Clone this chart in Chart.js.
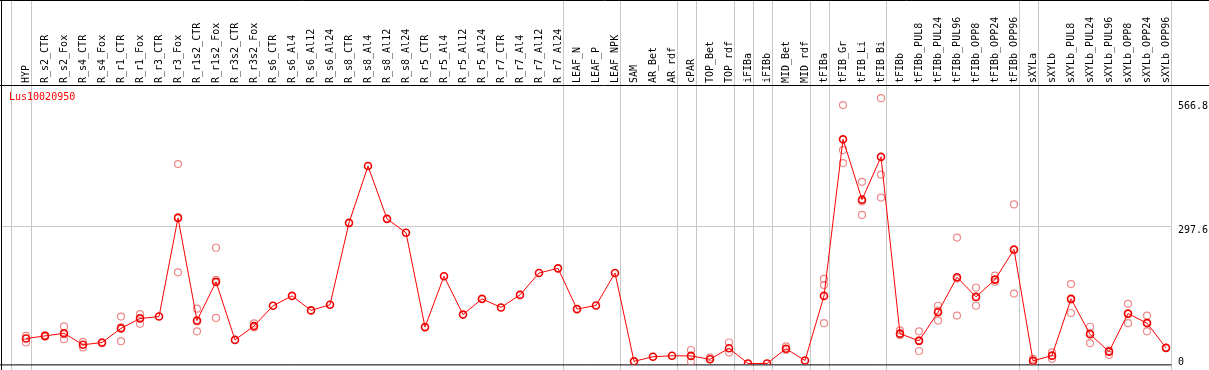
<!DOCTYPE html>
<html>
<head>
<meta charset="utf-8">
<script src="https://cdn.jsdelivr.net/npm/chart.js@4/dist/chart.umd.min.js"></script>
<style>
  body { margin: 0; background: #fff; }
  canvas { display: block; }
</style>
</head>
<body>
<canvas id="grafica" width="1209" height="370"></canvas>
<script>
// Datos
var geneName = 'Lus10020950';
var categories = ['HYP', 'R_s2_CTR', 'R_s2_Fox', 'R_s4_CTR', 'R_s4_Fox', 'R_r1_CTR', 'R_r1_Fox', 'R_r3_CTR', 'R_r3_Fox',
    'R_r1s2_CTR', 'R_r1s2_Fox', 'R_r3s2_CTR', 'R_r3s2_Fox', 'R_s6_CTR', 'R_s6_Al4', 'R_s6_Al12', 'R_s6_Al24',
    'R_s8_CTR', 'R_s8_Al4', 'R_s8_Al12', 'R_s8_Al24', 'R_r5_CTR', 'R_r5_Al4', 'R_r5_Al12', 'R_r5_Al24',
    'R_r7_CTR', 'R_r7_Al4', 'R_r7_Al12', 'R_r7_Al24', 'LEAF_N', 'LEAF_P', 'LEAF_NPK', 'SAM', 'AR_Bet', 'AR_rdf',
    'cPAR', 'TOP_Bet', 'TOP_rdf', 'iFIBa', 'iFIBb', 'MID_Bet', 'MID_rdf', 'tFIBa', 'tFIB_Gr', 'tFIB_Li', 'tFIB_Bi',
    'tFIBb', 'tFIBb_PUL8', 'tFIBb_PUL24', 'tFIBb_PUL96', 'tFIBb_OPP8', 'tFIBb_OPP24', 'tFIBb_OPP96',
    'sXYLa', 'sXYLb', 'sXYLb_PUL8', 'sXYLb_PUL24', 'sXYLb_PUL96', 'sXYLb_OPP8', 'sXYLb_OPP24', 'sXYLb_OPP96'];

// media
var meanValues = [54, 59.7, 65.4, 40.5, 45.4, 76, 97.4, 101.6, 315.3,
    93.1, 176.8, 51.1, 81, 125, 146.4, 115, 127.2,
    304.6, 427.6, 313.2, 283.3, 78.8, 189, 105.9, 140,
    121.4, 148.5, 196, 206, 117.8, 125.7, 196, 4.6, 14.6, 16.7,
    16.4, 9, 33, 0, 0, 32, 6.4, 146.4, 485.5, 354.8, 447.5,
    64.6, 49, 110.8, 186.8, 144.2, 181.7, 247,
    5.8, 17, 140, 63.3, 25.6, 108, 87.3, 33.8];

// replicas
var rep1 = [59.7, 58, 80.3, 46.9, 44, 101.6, 107, null, 431.8,
    118.7, 250.7, null, 86.7, null, null, null, null,
    null, null, null, null, null, null, null, null,
    null, null, null, null, null, null, null, null, null, null,
    29.2, 13.4, 45.4, null, null, 36.9, null, 183.2, 559.6, 393.5, 574.6,
    71.8, 69.7, 125, 272.7, 164, 190.3, 344.5,
    4.3, 24, 171.9, 79.5, 27.7, 129.3, 103.7, 34.1];
var rep2 = [45.4, 61, 52.6, 34.8, null, 48.3, 85.9, null, 197.5,
    69.7, 98.6, null, 78, null, null, null, null,
    null, null, null, null, null, null, null, null,
    null, null, null, null, null, null, null, null, null, null,
    4.3, null, 24, null, null, 29.2, null, 169.8, 462.3, 350.9, 409,
    61.1, 27, 93, 103.7, 125, 176.8, 151.3,
    10, 10, 109.3, 44.1, 18.5, 87.3, 69.7, null];
var rep3 = [null, null, 63, null, null, 78, 99, null, 316.6,
    91, 181, null, null, null, null, null, null,
    null, null, null, null, null, null, null, null,
    null, null, null, null, null, null, null, null, null, null,
    null, null, null, null, null, null, null, 87.3, 434, 321.7, 359.4,
    null, 50.3, 114.4, 184, 143.6, null, 245.5,
    null, null, 138.8, 66.3, null, 107.4, 88.5, null];

var groupEnds = ['HYP', 'R_r7_Al24', 'LEAF_NPK', 'AR_rdf', 'cPAR', 'TOP_rdf', 'iFIBa', 'iFIBb',
    'MID_rdf', 'tFIBa', 'tFIB_Bi', 'tFIBb_OPP96', 'sXYLa', 'sXYLb_OPP96'];
var yTicks = [0, 297.6, 566.8];

var fuente = 'DejaVu Sans Mono';
var colorRep = '#ee8a8a';

// lineas de grupo, marco, titulo y etiquetas del eje y
var marco = {
    id: 'marco',
    beforeDatasetsDraw: function (chart) {
        var ctx = chart.ctx;
        var x = chart.scales.x, y = chart.scales.y;
        var last = Math.round(x.getPixelForValue(categories.length - 1) + 4.5) + 0.5;
        ctx.save();
        ctx.strokeStyle = '#c8c8c8';
        ctx.lineWidth = 1;
        ctx.beginPath();
        var first = Math.round(x.getPixelForValue(0) - 15.5) + 0.5;
        ctx.moveTo(first, 0); ctx.lineTo(first, chart.height);
        groupEnds.forEach(function (name) {
            var px = Math.round(x.getPixelForValue(categories.indexOf(name)) + 4.5) + 0.5;
            ctx.moveTo(px, 0); ctx.lineTo(px, chart.height);
        });
        yTicks.forEach(function (v) {
            if (v === 0 || v === yTicks[yTicks.length - 1]) return;
            var py = Math.round(y.getPixelForValue(v)) + 0.5;
            ctx.moveTo(1, py); ctx.lineTo(last, py);
        });
        ctx.stroke();

        ctx.strokeStyle = '#000';
        ctx.beginPath();
        ctx.moveTo(0, 0.5); ctx.lineTo(chart.width, 0.5);
        ctx.moveTo(0, 85.5); ctx.lineTo(chart.width, 85.5);
        ctx.moveTo(1.5, 0); ctx.lineTo(1.5, chart.height);
        ctx.moveTo(0, chart.chartArea.bottom + 0.5); ctx.lineTo(last, chart.chartArea.bottom + 0.5);
        ctx.stroke();
        ctx.restore();
    },
    afterDraw: function (chart) {
        var ctx = chart.ctx;
        var y = chart.scales.y;
        ctx.save();
        ctx.font = '10px "' + fuente + '"';
        ctx.textBaseline = 'middle';
        ctx.fillStyle = '#ff0000';
        ctx.fillText(geneName, 9, 97);
        ctx.fillStyle = '#000';
        yTicks.forEach(function (v) {
            var py = Math.min(y.getPixelForValue(v) + 4.5, 362);
            ctx.fillText(String(v), 1178, py);
        });
        ctx.restore();
    }
};

function replica(data) {
    return {
        label: 'replica',
        data: data,
        showLine: false,
        order: 1,
        pointRadius: 3.5,
        pointBorderWidth: 1.2,
        pointBorderColor: colorRep,
        pointBackgroundColor: 'rgba(0,0,0,0)'
    };
}

var ctx = document.getElementById('grafica').getContext('2d');
var grafica = new Chart(ctx, {
    type: 'line',
    data: {
        labels: categories,
        datasets: [{
            label: geneName,
            data: meanValues,
            order: 0,
            borderColor: '#ff0000',
            borderWidth: 1,
            pointRadius: 3.5,
            pointBorderWidth: 1.6,
            pointBorderColor: '#f00000',
            pointBackgroundColor: 'rgba(0,0,0,0)',
            fill: false
        }, replica(rep1), replica(rep2), replica(rep3)]
    },
    options: {
        responsive: false,
        animation: false,
        devicePixelRatio: 1,
        layout: { padding: { left: 16.5, right: 0, top: 0, bottom: 1 } },
        scales: {
            x: {
                type: 'category',
                position: 'top',
                offset: true,
                grid: { display: false, drawTicks: false },
                border: { display: false },
                ticks: {
                    autoSkip: false,
                    minRotation: 90,
                    maxRotation: 90,
                    padding: 3,
                    labelOffset: 12,
                    color: '#000',
                    font: { family: fuente, size: 10 }
                },
                afterFit: function (scale) { scale.height = 86; }
            },
            y: {
                position: 'right',
                min: -2,
                max: 601,
                grid: { display: false, drawTicks: false },
                border: { display: false },
                ticks: { display: false },
                afterBuildTicks: function (scale) {
                    scale.ticks = yTicks.map(function (v) { return { value: v }; });
                },
                afterFit: function (scale) { scale.width = 33.5; }
            }
        },
        plugins: {
            legend: { display: false },
            tooltip: { enabled: false }
        }
    },
    plugins: [marco]
});
</script>
</body>
</html>
